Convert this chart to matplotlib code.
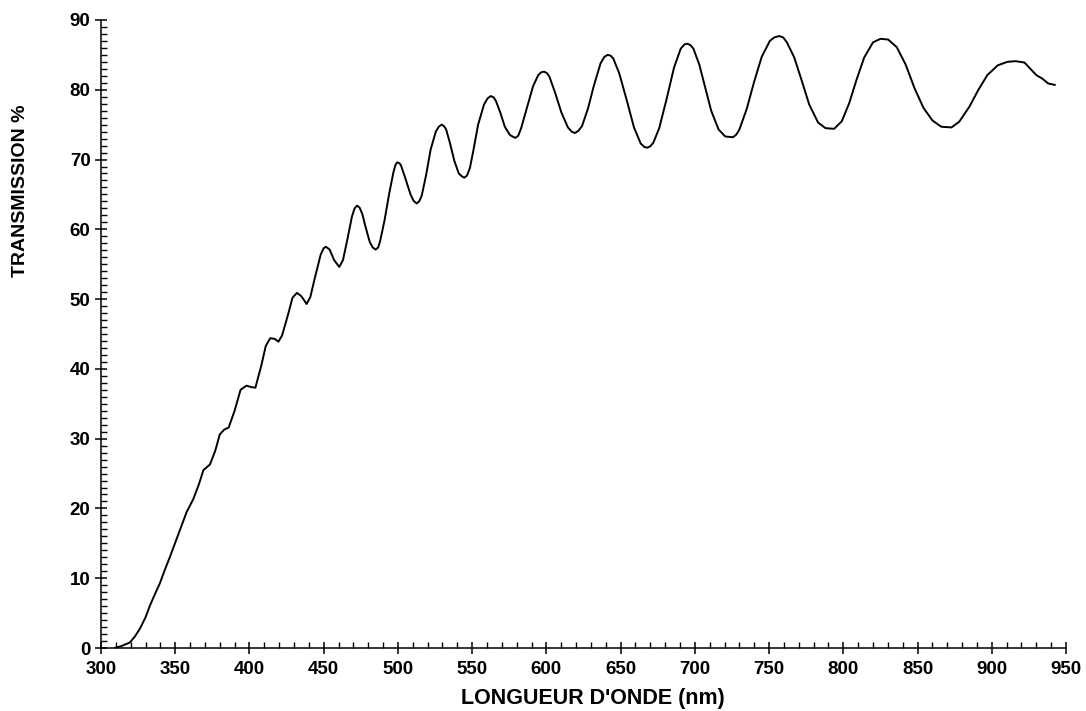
#!/usr/bin/env python3

import numpy as np
from matplotlib import pyplot as plt
from matplotlib.ticker import MultipleLocator

# longueur d'onde (nm) et transmission (%)
wavelength = [
    309.4, 314, 319.5, 323, 326.3, 330, 333, 336.5, 339.7, 343,
    346.5, 350, 353.2, 357.7, 362.1, 366, 369, 373.4, 377, 380,
    383, 386, 390, 394, 398, 401, 404, 408, 411, 414,
    417, 419.5, 422, 426, 429, 432, 435, 438.5, 441, 444,
    448, 450, 451.5, 454, 457, 460.5, 463, 466, 469, 470.8,
    472.5, 474.2, 476, 478, 481, 483, 485, 486.7, 488, 491,
    494, 497, 498.3, 499.5, 500.8, 502, 505, 508.5, 510.5, 512.6,
    514.3, 516, 519, 522, 525.5, 527.5, 529.4, 531, 532.5, 535,
    538, 541, 543, 544.7, 546.5, 548.5, 551, 554, 558, 560.5,
    562.6, 564.5, 566, 569, 572, 575.5, 579, 581, 583, 587,
    591, 594.5, 596.5, 598.3, 600.3, 602, 606, 610, 614.5, 617,
    619.2, 621.5, 624, 628, 632, 636.5, 639, 641.2, 643.2, 645,
    649, 654, 659, 663.5, 666, 668, 670, 672, 676, 681,
    686, 690.5, 693, 695, 697, 699, 703, 707, 711, 716,
    720.5, 725.8, 728, 730, 735, 740, 745, 750.5, 753.5, 756.8,
    759.5, 762, 767, 772, 777, 783, 788, 793.8, 799, 804,
    809, 814, 820, 825, 830.2, 836, 842, 848, 854, 860,
    866, 872.8, 878, 885, 891, 897, 904, 910.5, 916, 922,
    926, 930, 934, 938, 942.4,
]
transmission = [
    0.0, 0.3, 0.8, 1.7, 2.8, 4.4, 6.1, 7.8, 9.3, 11.2,
    13.1, 15.1, 16.9, 19.5, 21.3, 23.5, 25.5, 26.3, 28.3, 30.6,
    31.3, 31.6, 34.0, 37.0, 37.6, 37.4, 37.3, 40.5, 43.3, 44.4,
    44.3, 43.9, 44.8, 47.8, 50.2, 50.9, 50.4, 49.3, 50.3, 53.0,
    56.4, 57.3, 57.5, 57.1, 55.6, 54.6, 55.6, 58.6, 61.8, 63.0,
    63.4, 63.1, 62.2, 60.5, 58.2, 57.4, 57.1, 57.4, 58.3, 61.3,
    65.0, 68.2, 69.2, 69.6, 69.5, 69.2, 67.3, 65.0, 64.1, 63.7,
    64.0, 64.8, 67.8, 71.4, 74.0, 74.7, 75.0, 74.8, 74.3, 72.4,
    69.8, 68.0, 67.6, 67.4, 67.7, 68.8, 71.5, 75.0, 77.9, 78.8,
    79.1, 78.9, 78.4, 76.7, 74.7, 73.5, 73.1, 73.4, 74.5, 77.5,
    80.5, 82.1, 82.5, 82.6, 82.4, 81.9, 79.5, 76.8, 74.6, 74.0,
    73.8, 74.1, 74.8, 77.3, 80.6, 83.8, 84.7, 85.0, 84.9, 84.5,
    82.4, 78.6, 74.6, 72.3, 71.8, 71.7, 71.9, 72.4, 74.5, 78.7,
    83.2, 85.9, 86.5, 86.6, 86.4, 85.9, 83.6, 80.3, 77.0, 74.3,
    73.3, 73.2, 73.6, 74.3, 77.3, 81.2, 84.7, 87.0, 87.5, 87.7,
    87.5, 86.8, 84.6, 81.3, 77.9, 75.3, 74.5, 74.4, 75.5, 78.1,
    81.5, 84.6, 86.8, 87.3, 87.2, 86.1, 83.6, 80.2, 77.4, 75.6,
    74.7, 74.6, 75.4, 77.6, 80.0, 82.1, 83.5, 84.0, 84.1, 83.9,
    83.0, 82.1, 81.6, 80.9, 80.7,
]

x_ticks = np.arange(300, 951, 50)
y_ticks = np.arange(0, 91, 10)


def main():
    plt.rcParams['font.family'] = ['Liberation Sans', 'DejaVu Sans']
    plt.rcParams['font.weight'] = 'bold'

    fig = plt.figure(figsize=(10.86, 7.11), dpi=100)
    ax = fig.add_axes([0.093, 0.0886, 0.8886, 0.8833])

    ax.plot(wavelength, transmission, color='black', linewidth=1.4)

    ax.set_xlim(300, 950)
    ax.set_ylim(0, 90)
    ax.set_xticks(x_ticks)
    ax.set_yticks(y_ticks)
    ax.xaxis.set_minor_locator(MultipleLocator(10))
    ax.yaxis.set_minor_locator(MultipleLocator(1))

    for side in ['top', 'right']:
        ax.spines[side].set_visible(False)
    for side in ['left', 'bottom']:
        ax.spines[side].set_linewidth(1.1)

    ax.tick_params(which='major', direction='inout', length=9, width=1.1,
                   labelsize=13.5)
    ax.tick_params(axis='x', which='major', pad=5)
    ax.tick_params(axis='y', which='major', pad=3)
    ax.tick_params(which='minor', direction='in', length=4, width=1.0)
    for lab in ax.get_xticklabels() + ax.get_yticklabels():
        lab.set_fontweight('bold')

    ax.set_xlabel("LONGUEUR D'ONDE (nm)", fontsize=15.5, fontweight='bold',
                  va='center')
    ax.xaxis.set_label_coords(0.51, -0.08)
    ax.set_ylabel('TRANSMISSION %', fontsize=14, fontweight='bold', va='center')
    ax.yaxis.set_label_coords(-0.083, 0.728)

    fig.savefig('out.png', dpi=100)
    plt.close(fig)


if __name__ == '__main__':
    main()
